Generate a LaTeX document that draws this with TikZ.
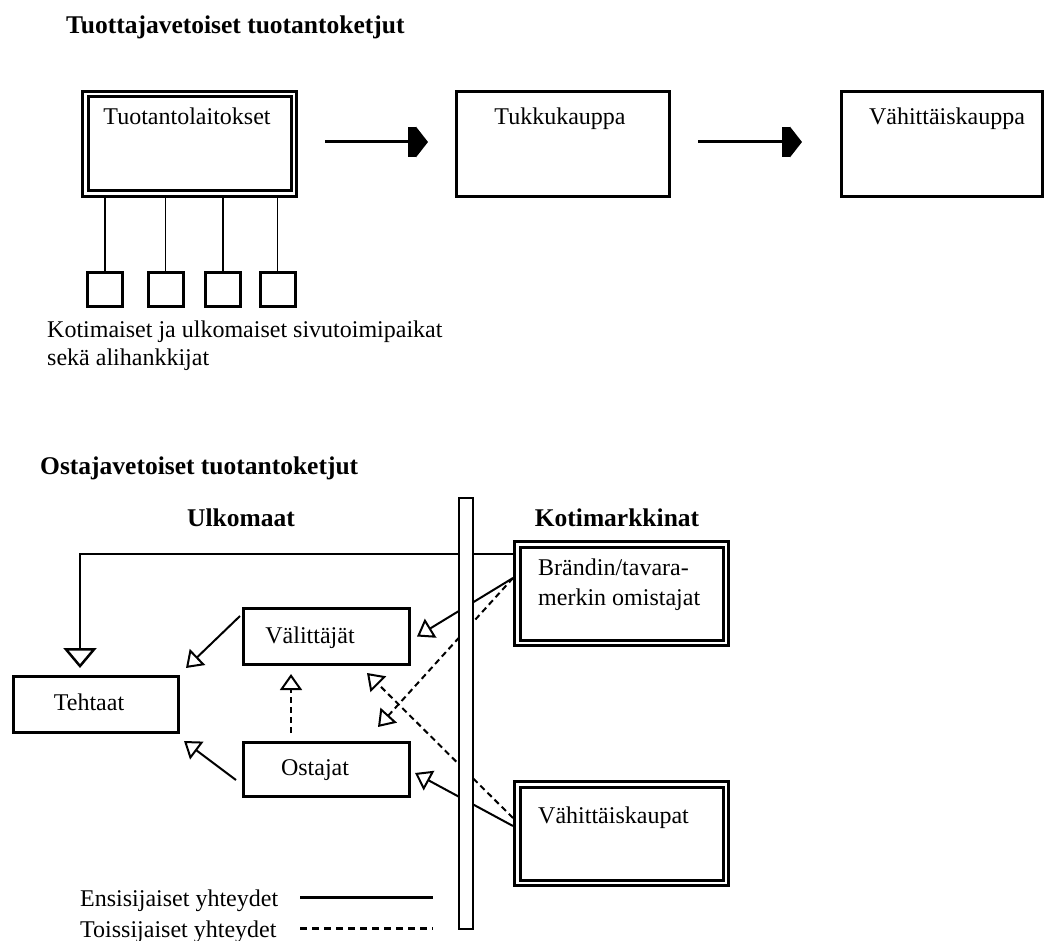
\documentclass[tikz,border=0pt]{standalone}
\usepackage{fontspec}
\setmainfont{Liberation Serif}
\usetikzlibrary{arrows.meta}
\begin{document}
\begin{tikzpicture}[x=1pt,y=-1pt,
  txt/.style={font=\fontsize{24}{28}\selectfont, inner sep=0pt},
  boldtxt/.style={font=\fontsize{25.5}{30}\selectfont\bfseries, inner sep=0pt},
  sbox/.style={draw, line width=3pt, inner sep=0pt, outer sep=1.5pt},
  dbox/.style={draw, line width=3pt, double=white, double distance=2.5pt, inner sep=0pt, outer sep=4.25pt},
  smallbox/.style={draw, line width=3pt, inner sep=0pt, minimum width=35pt, minimum height=34pt, outer sep=1.5pt},
  stem/.style={line width=1.6pt},
  bigarrow/.style={line width=3pt, -{Rectangle[length=8pt,width=30pt]Triangle[length=12pt,width=30pt]}},
  primline/.style={line width=2pt, -{Triangle[length=16pt,width=22pt,fill=white]}},
  secline/.style={primline, dash pattern=on 6pt off 4pt},
]
\useasboundingbox (0,0) rectangle (1046,941);
% ---------- top part ----------
\node[boldtxt, anchor=base west] (t1) at (66,34) {Tuottajavetoiset tuotantoketjut};
\node[dbox, minimum width=208.5pt, minimum height=99.5pt] (A) at (189.5,144) {};
\node[txt, anchor=base] (At) at (187,125) {Tuotantolaitokset};
\node[sbox, minimum width=213pt, minimum height=105pt] (B) at (563,144) {};
\node[txt, anchor=base] (Bt) at (560,125) {Tukkukauppa};
\node[sbox, minimum width=201pt, minimum height=105pt] (C) at (942,144) {};
\node[txt, anchor=base] (Ct) at (947,125) {Vähittäiskauppa};
\draw[bigarrow] ([shift={(27,-2)}]A.east) -- ([shift={(-27,-2)}]B.west);
\draw[bigarrow] ([shift={(27,-2)}]B.east) -- ([shift={(-38,-2)}]C.west);
\node[smallbox] (s1) at (105,289.5) {};
\node[smallbox] (s2) at (165.5,289.5) {};
\node[smallbox] (s3) at (223,289.5) {};
\node[smallbox] (s4) at (277.5,289.5) {};
\foreach \s in {s1,s2,s3,s4}
  \draw[stem] (\s.north) -- (\s.north |- A.south);
\node[txt, anchor=base west] (cap1) at (47,337) {Kotimaiset ja ulkomaiset sivutoimipaikat};
\node[txt, anchor=base west] (cap2) at (47,365) {sekä alihankkijat};
% ---------- bottom part ----------
\node[boldtxt, anchor=base west] (t2) at (40,474) {Ostajavetoiset tuotantoketjut};
\node[boldtxt, anchor=base] (uk) at (241,526) {Ulkomaat};
\node[boldtxt, anchor=base] (km) at (617,526) {Kotimarkkinat};
\node[dbox, minimum width=208.5pt, minimum height=98.5pt] (brand) at (621.5,593.5) {};
\node[txt, anchor=base west] (br1) at (538,575) {Brändin/tavara-};
\node[txt, anchor=base west] (br2) at (538,605) {merkin omistajat};
\node[dbox, minimum width=208.5pt, minimum height=98.5pt] (vk) at (621.5,833.5) {};
\node[txt, anchor=base west] (vkt) at (538,823) {Vähittäiskaupat};
\node[sbox, minimum width=166pt, minimum height=56pt] (val) at (326.5,636.5) {};
\node[txt, anchor=base] (valt) at (310,643) {Välittäjät};
\node[sbox, minimum width=166pt, minimum height=54pt] (ost) at (326.5,769.5) {};
\node[txt, anchor=base] (ostt) at (315,775) {Ostajat};
\node[sbox, minimum width=165pt, minimum height=56pt] (teh) at (96,704.5) {};
\node[txt, anchor=base] (teht) at (89,710) {Tehtaat};
% connectors
\draw[primline, line width=2.5pt, -{Triangle[length=20pt,width=33pt,fill=white]}]
  ([shift={(0,-39.5)}]brand.west) -| ([shift={(-16,-7)}]teh.north);
\draw[primline] ([shift={(-2,9)}]val.north west) -- ([shift={(6,-7)}]teh.north east);
\draw[primline] ([shift={(0,-15.5)}]brand.west) -- ([shift={(6,0)}]val.east);
\draw[primline] ([shift={(-6,10.5)}]ost.west) -- ([shift={(4,7)}]teh.south east);
\draw[secline] ([shift={(-35.5,-8)}]ost.north) -- ([shift={(-35.5,8)}]val.south);
\draw[primline] ([shift={(0,-7.5)}]vk.west) -- ([shift={(4,3.5)}]ost.east);
\draw[secline] ([shift={(0,-15.5)}]vk.west) -- ([shift={(-44,7)}]val.south east);
\draw[secline] ([shift={(0,-15.5)}]brand.west) -- ([shift={(-33,-14)}]ost.north east);
% separator bar (drawn over the lines)
\node[draw, fill=white, line width=1.5pt, minimum width=14pt, minimum height=431pt, inner sep=0pt] (bar) at (466,713.5) {};
% legend
\node[txt, anchor=base west] (l1) at (80,906) {Ensisijaiset yhteydet};
\node[txt, anchor=base west] (l2) at (80,937) {Toissijaiset yhteydet};
\coordinate (l1a) at (300,897); \coordinate (l1b) at (433,897);
\coordinate (l2a) at (300,928); \coordinate (l2b) at (433,928);
\draw[line width=3pt] (l1a) -- (l1b);
\draw[line width=3pt, dash pattern=on 7pt off 5pt] (l2a) -- (l2b);
\end{tikzpicture}
\end{document}
